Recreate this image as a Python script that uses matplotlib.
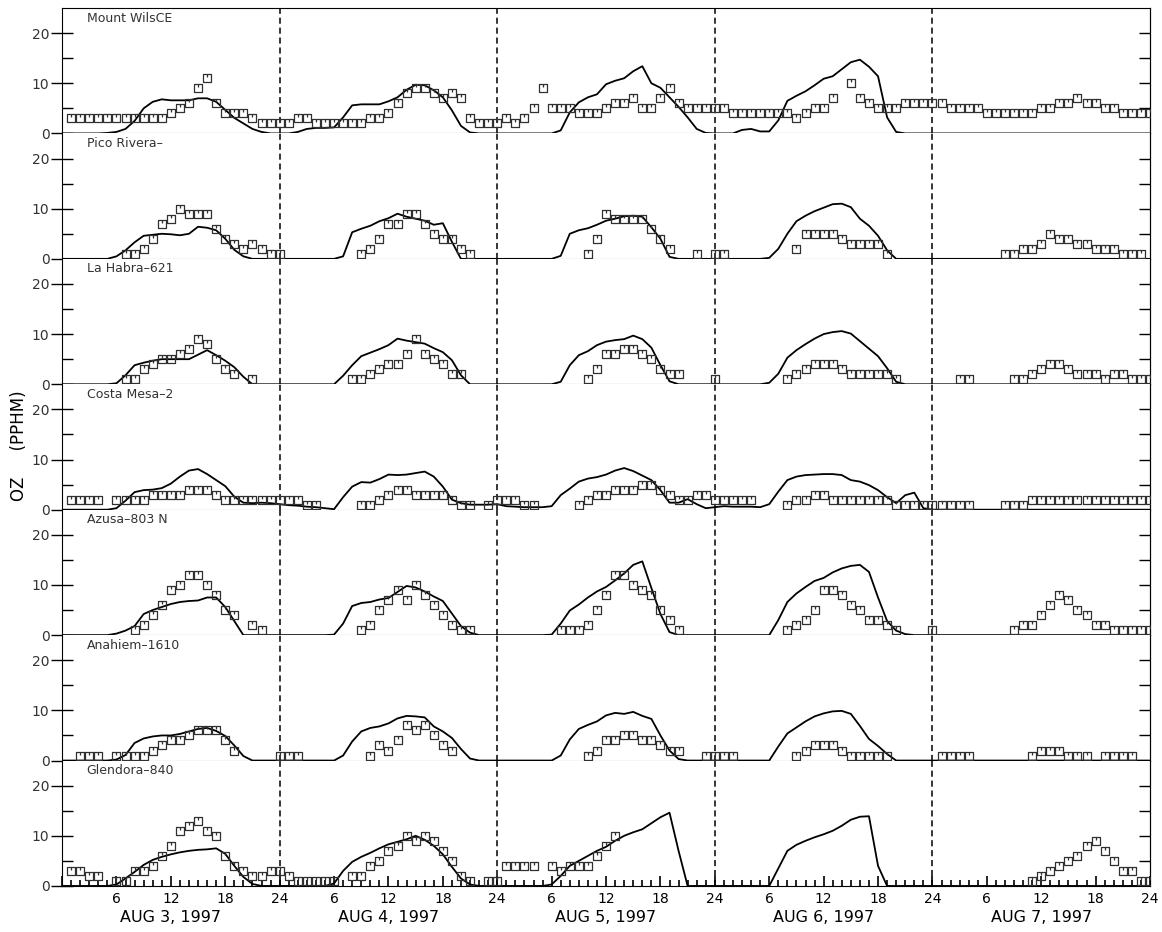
import numpy as np
import matplotlib

matplotlib.use("Agg")
import matplotlib.pyplot as plt
from matplotlib.path import Path
from matplotlib.ticker import FixedLocator, MultipleLocator, FuncFormatter

N = None

stations = ["Mount WilsCE", "Pico Rivera\u2013", "La Habra\u2013621", "Costa Mesa\u20132",
            "Azusa\u2013803 N", "Anahiem\u20131610", "Glendora\u2013840"]
day_labels = ["AUG 3, 1997", "AUG 4, 1997", "AUG 5, 1997", "AUG 6, 1997", "AUG 7, 1997"]

# observed hourly ozone, hours 1..120
mw_obs = [3, 3, 3, 3, 3, 3, 3, 3, 3, 3, 3, 4, 5, 6, 9, 11, 6, 4, 4, 4, 3, 2, 2, 2,
          2, 3, 3, 2, 2, 2, 2, 2, 2, 3, 3, 4, 6, 8, 9, 9, 8, 7, 8, 7, 3, 2, 2, 2,
          3, 2, 3, 5, 9, 5, 5, 5, 4, 4, 4, 5, 6, 6, 7, 5, 5, 7, 9, 6, 5, 5, 5, 5,
          5, 4, 4, 4, 4, 4, 4, 4, 3, 4, 5, 5, 7, N, 10, 7, 6, 5, 5, 5, 6, 6, 6, 6,
          6, 5, 5, 5, 5, 4, 4, 4, 4, 4, 4, 5, 5, 6, 6, 7, 6, 6, 5, 5, 4, 4, 4, 4]
pr_obs = [N, N, N, N, N, N, 1, 1, 2, 4, 7, 8, 10, 9, 9, 9, 6, 4, 3, 2, 3, 2, 1, 1,
          N, N, N, N, N, N, N, N, 1, 2, 4, 7, 7, 9, 9, 7, 5, 4, 4, 2, 1, N, N, N,
          N, N, N, N, N, N, N, N, N, 1, 4, 9, 8, 8, 8, 8, 6, 4, 2, N, N, 1, N, 1,
          1, N, N, N, N, N, N, N, 2, 5, 5, 5, 5, 4, 3, 3, 3, 3, 1, N, N, N, N, N,
          N, N, N, N, N, N, N, 1, 1, 2, 2, 3, 5, 4, 4, 3, 3, 2, 2, 2, 1, 1, 1, N]
lh_obs = [N, N, N, N, N, N, 1, 1, 3, 4, 5, 5, 6, 7, 9, 8, 5, 3, 2, N, 1, N, N, N,
          N, N, N, N, N, N, N, 1, 1, 2, 3, 4, 4, 6, 9, 6, 5, 4, 2, 2, N, N, N, N,
          N, N, N, N, N, N, N, N, N, 1, 3, 6, 6, 7, 7, 6, 5, 3, 2, 2, N, N, N, 1,
          N, N, N, N, N, N, N, 1, 2, 3, 4, 4, 4, 3, 2, 2, 2, 2, 2, 1, N, N, N, N,
          N, N, 1, 1, N, N, N, N, 1, 1, 2, 3, 4, 4, 3, 2, 2, 2, 1, 2, 2, 1, 1, 1]
cm_obs = [2, 2, 2, 2, N, 2, 2, 2, 2, 3, 3, 3, 3, 4, 4, 4, 3, 2, 2, 2, 2, 2, 2, 2,
          2, 2, 1, 1, N, N, N, N, 1, 1, 2, 3, 4, 4, 3, 3, 3, 3, 2, 1, 1, N, 1, 2,
          2, 2, 1, 1, N, N, N, N, 1, 2, 3, 3, 4, 4, 4, 5, 5, 4, 3, 2, 2, 3, 3, 2,
          2, 2, 2, 2, N, N, N, 1, 2, 2, 3, 3, 2, 2, 2, 2, 2, 2, 2, 1, 1, 1, 1, 1,
          1, 1, 1, 1, N, N, N, 1, 1, 1, 2, 2, 2, 2, 2, 2, 2, 2, 2, 2, 2, 2, 2, 2]
az_obs = [N, N, N, N, N, N, N, 1, 2, 4, 6, 9, 10, 12, 12, 10, 8, 5, 4, N, 2, 1, N, N,
          N, N, N, N, N, N, N, N, 1, 2, 5, 7, 9, 7, 10, 8, 6, 4, 2, 1, 1, N, N, N,
          N, N, N, N, N, N, 1, 1, 1, 2, 5, 8, 12, 12, 10, 9, 8, 5, 3, 1, N, N, N, N,
          N, N, N, N, N, N, N, 1, 2, 3, 5, 9, 9, 8, 6, 5, 3, 3, 2, 1, N, N, N, 1,
          N, N, N, N, N, N, N, N, 1, 2, 2, 4, 6, 8, 7, 5, 4, 2, 2, 1, 1, 1, 1, 1]
an_obs = [N, 1, 1, 1, N, 1, 1, 1, 1, 2, 3, 4, 4, 5, 6, 6, 6, 4, 2, N, N, N, N, 1,
          1, 1, N, N, N, N, N, N, N, 1, 3, 2, 4, 7, 6, 7, 5, 3, 2, N, N, N, N, N,
          N, N, N, N, N, N, N, N, N, 1, 2, 4, 4, 5, 5, 4, 4, 3, 2, 2, N, N, 1, 1,
          1, 1, N, N, N, N, N, N, 1, 2, 3, 3, 3, 2, 1, 1, 1, 1, 1, N, N, N, N, N,
          1, 1, 1, 1, N, N, N, N, N, N, 1, 2, 2, 2, 1, 1, 1, N, 1, 1, 1, 1, N, N]
gl_obs = [3, 3, 2, 2, N, 1, 1, 3, 3, 4, 6, 8, 11, 12, 13, 11, 10, 6, 4, 3, 2, 2, 3, 3,
          2, 1, 1, 1, 1, 1, N, 2, 2, 4, 5, 7, 8, 10, 9, 10, 9, 7, 5, 2, 1, N, 1, 1,
          4, 4, 4, 4, N, 4, 3, 4, 4, 4, 6, 8, 10, N, N, N, N, N, N, N, N, N, N, N,
          N, N, N, N, N, N, N, N, N, N, N, N, N, N, N, N, N, N, N, N, N, N, N, N,
          N, N, N, N, N, N, N, N, N, N, 1, 2, 3, 4, 5, 6, 8, 9, 7, 5, 3, 3, 1, 1]

# model hourly ozone, hours 0..120
mw_mod = [0,
          0, 0, 0, 0, 0.1, 0.3, 0.9, 2.5, 5.0, 6.3, 6.8, 6.6, 6.6, 6.6, 7.0, 7.0, 6.3, 4.7, 3.1, 2.0, 0.9, 0.3, 0, 0,
          0, 0.3, 0.9, 1.1, 1.1, 1.2, 3.2, 5.6, 5.8, 5.8, 5.8, 6.4, 7.2, 8.7, 9.7, 9.6, 8.6, 7.2, 4.6, 1.5, 0.2, 0, 0, 0,
          0, 0, 0, 0, 0, 0, 0.6, 4.2, 6.2, 7.2, 7.8, 9.8, 10.5, 11.0, 12.4, 13.4, 10.0, 9.1, 7.2, 5.3, 3.2, 0.9, 0.1, 0,
          0, 0, 0.7, 0.9, 0.4, 0.4, 2.6, 6.5, 7.5, 8.4, 9.6, 10.9, 11.4, 12.8, 14.2, 14.7, 13.3, 11.4, 3.2, 0.3, 0, 0, 0, 0,
          0, 0, 0, 0, 0, 0, 0, 0, 0, 0, 0, 0, 0, 0, 0, 0, 0, 0, 0, 0, 0, 0, 0, 0]
pr_mod = [0,
          0, 0, 0, 0, 0, 0.5, 1.7, 3.3, 4.6, 4.8, 5.0, 4.9, 4.7, 5.0, 6.4, 6.2, 5.7, 4.0, 1.8, 0.5, 0, 0, 0, 0,
          0, 0, 0, 0, 0, 0, 0.5, 5.3, 6.0, 6.6, 7.5, 8.1, 9.0, 8.4, 8.0, 7.6, 6.8, 7.1, 3.4, 0, 0, 0, 0, 0,
          0, 0, 0, 0, 0, 0, 0.6, 5.0, 5.7, 6.1, 6.8, 7.6, 8.0, 8.5, 8.6, 8.4, 6.3, 4.0, 0.4, 0, 0, 0, 0, 0,
          0, 0, 0, 0, 0, 0.2, 2.0, 5.0, 7.5, 8.6, 9.5, 10.2, 10.9, 11.0, 10.3, 8.0, 6.6, 4.6, 1.7, 0, 0, 0, 0, 0,
          0, 0, 0, 0, 0, 0, 0, 0, 0, 0, 0, 0, 0, 0, 0, 0, 0, 0, 0, 0, 0, 0, 0, 0]
lh_mod = [0,
          0, 0, 0, 0, 0, 0.2, 1.8, 3.8, 4.3, 4.7, 5.0, 5.0, 5.0, 5.0, 5.9, 6.8, 5.8, 4.7, 3.4, 1.5, 0, 0, 0, 0,
          0, 0, 0, 0, 0, 0, 1.7, 3.8, 5.6, 6.3, 7.0, 7.8, 9.1, 8.7, 8.4, 8.1, 7.2, 6.4, 4.8, 1.8, 0, 0, 0, 0,
          0, 0, 0, 0, 0, 0, 0.5, 3.8, 5.8, 6.6, 7.8, 8.5, 8.8, 9.0, 9.7, 9.0, 7.3, 3.8, 0.6, 0, 0, 0, 0, 0,
          0, 0, 0, 0, 0, 0.3, 2.1, 5.3, 6.8, 8.0, 9.1, 10.0, 10.4, 10.6, 10.1, 8.6, 7.1, 5.6, 3.2, 0.5, 0, 0, 0, 0,
          0, 0, 0, 0, 0, 0, 0, 0, 0, 0, 0, 0, 0, 0, 0, 0, 0, 0, 0, 0, 0, 0, 0, 0]
cm_mod = [0,
          0, 0, 0, 0, 0, 0.3, 1.8, 3.5, 3.9, 4.0, 4.3, 5.2, 6.6, 7.8, 8.1, 7.1, 5.9, 4.7, 2.6, 1.4, 1.3, 1.4, 1.3, 1.1,
          0.9, 0.8, 0.6, 0.5, 0.3, 0.1, 2.5, 4.6, 5.5, 5.4, 6.1, 7.0, 6.9, 7.0, 7.3, 7.6, 6.6, 4.6, 2.0, 1.3, 1.0, 1.0, 1.0, 1.1,
          0.7, 0.6, 0.5, 0.5, 0.5, 0.7, 2.9, 4.2, 5.6, 6.2, 6.5, 7.0, 7.8, 8.3, 7.7, 6.8, 5.9, 3.9, 1.4, 1.4, 2.1, 1.1, 0.3, 0.5,
          0.7, 0.6, 0.6, 0.6, 0.5, 1.1, 3.6, 5.9, 6.6, 6.9, 7.0, 7.1, 7.1, 6.9, 5.9, 5.6, 4.9, 3.9, 2.5, 1.3, 2.9, 3.4, 0.3, 0,
          0, 0, 0, 0, 0, 0, 0, 0, 0, 0, 0, 0, 0, 0, 0, 0, 0, 0, 0, 0, 0, 0, 0, 0]
az_mod = [0,
          0, 0, 0, 0, 0, 0.3, 0.9, 1.8, 4.2, 5.0, 5.6, 6.2, 6.6, 6.8, 6.9, 7.5, 7.5, 5.6, 2.8, 0, 0, 0, 0, 0,
          0, 0, 0, 0, 0, 0.1, 2.3, 5.8, 6.4, 6.6, 7.1, 7.4, 8.6, 9.8, 9.5, 8.7, 7.7, 6.8, 4.3, 1.8, 0.5, 0, 0, 0,
          0, 0, 0, 0, 0, 0.1, 2.3, 4.9, 6.1, 7.5, 8.7, 9.6, 10.9, 12.3, 14.0, 14.7, 9.4, 4.2, 0.6, 0, 0, 0, 0, 0,
          0, 0, 0, 0, 0, 0, 3.0, 6.6, 8.3, 9.6, 10.8, 11.4, 12.5, 13.3, 13.8, 14.0, 12.6, 7.5, 2.8, 0.9, 0.2, 0, 0, 0,
          0, 0, 0, 0, 0, 0, 0, 0, 0, 0, 0, 0, 0, 0, 0, 0, 0, 0, 0, 0, 0, 0, 0, 0]
an_mod = [0,
          0, 0, 0, 0, 0, 0.2, 1.1, 3.5, 4.4, 4.8, 5.0, 5.0, 5.3, 5.8, 6.3, 6.5, 5.9, 4.9, 3.0, 0.9, 0, 0, 0, 0,
          0, 0, 0, 0, 0, 0, 1.0, 3.8, 5.8, 6.5, 6.8, 7.4, 8.4, 8.9, 8.8, 8.6, 6.8, 5.8, 4.5, 2.3, 0.4, 0, 0, 0,
          0, 0, 0, 0, 0, 0, 1.0, 4.2, 6.3, 7.1, 7.8, 9.0, 9.5, 9.3, 9.7, 8.9, 8.3, 5.0, 2.0, 0.3, 0, 0, 0, 0,
          0, 0, 0, 0, 0, 0, 2.8, 5.4, 6.6, 7.8, 8.8, 9.4, 9.8, 9.9, 9.3, 6.9, 4.3, 2.9, 1.3, 0, 0, 0, 0, 0,
          0, 0, 0, 0, 0, 0, 0, 0, 0, 0, 0, 0, 0, 0, 0, 0, 0, 0, 0, 0, 0, 0, 0, 0]
gl_mod = [0,
          0, 0, 0, 0, 0, 0.3, 1.5, 2.8, 4.2, 5.2, 5.8, 6.3, 6.7, 7.0, 7.2, 7.3, 7.5, 6.4, 4.0, 1.8, 0.4, 0, 0, 0,
          0, 0, 0, 0, 0, 0.5, 3.0, 4.8, 5.8, 6.6, 7.5, 8.3, 8.8, 9.3, 10.0, 9.2, 8.0, 6.3, 3.8, 1.5, 0.3, 0, 0, 0,
          0, 0, 0, 0, 0, 0.3, 2.0, 4.0, 5.0, 6.0, 7.0, 7.8, 9.0, 10.0, 10.7, 11.3, 12.5, 13.7, 14.6, 7.0, 0, 0, 0, 0,
          0, 0, 0, 0, 0, 0, 3.5, 7.0, 8.2, 9.0, 9.7, 10.3, 11.0, 12.0, 13.2, 13.8, 13.9, 4.0, 0, 0, 0, 0, 0, 0,
          0, 0, 0, 0, 0, 0, 0, 0, 0, 0, 0, 0, 0, 0, 0, 0, 0, 0, 0, 0, 0, 0, 0, 0]

obs_all = [mw_obs, pr_obs, lh_obs, cm_obs, az_obs, an_obs, gl_obs]
mod_all = [mw_mod, pr_mod, lh_mod, cm_mod, az_mod, an_mod, gl_mod]
for o, m in zip(obs_all, mod_all):
    assert len(o) == 120 and len(m) == 121, (len(o), len(m))

obs_hours = np.arange(1, 121)
mod_hours = np.arange(0, 121)
day_breaks = [24, 48, 72, 96]

# square with a small notch, like the original plot symbol
box = Path([(-1, -1), (1, -1), (1, 1), (-1, 1), (-1, -1), (0, 1), (0, 0.3)],
           [Path.MOVETO, Path.LINETO, Path.LINETO, Path.LINETO, Path.CLOSEPOLY,
            Path.MOVETO, Path.LINETO])

plt.rcParams["font.family"] = ["DejaVu Sans"]
fig, axes = plt.subplots(7, 1, figsize=(11.62, 9.32), dpi=100, sharex=True,
                         gridspec_kw=dict(hspace=0))
fig.subplots_adjust(left=0.0534, right=0.9897, top=0.9914, bottom=0.0494)

for i, ax in enumerate(axes):
    obs = np.array([np.nan if v is None else v for v in obs_all[i]], dtype=float)
    mod = np.array(mod_all[i], dtype=float)
    ax.plot(mod_hours, mod, color="black", lw=1.3, zorder=3)
    ax.plot(obs_hours, obs, ls="none", marker=box, ms=6, mfc="none",
            mec="#303030", mew=0.9, zorder=4)
    for b in day_breaks:
        ax.axvline(b, color="black", lw=1.1, ls=(0, (4, 2.5)), zorder=2)
    ax.set_xlim(0, 120)
    ax.set_ylim(0, 25)
    ax.text(2.7, 23, stations[i], fontsize=9, color="#333", va="center", ha="left")

    ax.yaxis.set_major_locator(FixedLocator([0, 10, 20]))
    ax.yaxis.set_minor_locator(FixedLocator([5, 15]))
    ax.tick_params(axis="y", which="major", direction="inout", length=16, width=1,
                   labelsize=10, labelcolor="#333", pad=1, right=False)
    ax.tick_params(axis="y", which="minor", direction="in", length=8, width=1, right=False)

    sec = ax.secondary_yaxis("right")
    sec.set_yticks([5, 10, 15, 20])
    sec.tick_params(direction="in", length=8, width=1, labelright=False)

    if i > 0:
        ax.spines["top"].set_visible(False)
    if i < 6:
        ax.spines["bottom"].set_color("#666")
        ax.tick_params(axis="x", which="both", bottom=False, labelbottom=False)

bax = axes[-1]
bax.xaxis.set_major_locator(MultipleLocator(6))
bax.xaxis.set_minor_locator(MultipleLocator(1))
bax.xaxis.set_major_formatter(FuncFormatter(lambda v, p: "" if v <= 0 else str(int((v - 1) % 24 + 1))))
bax.tick_params(axis="x", which="major", direction="in", length=7, width=1.2,
                labelsize=10, pad=4, top=False)
bax.tick_params(axis="x", which="minor", direction="in", length=4.5, width=1.2, top=False)
for k, lab in enumerate(day_labels):
    bax.text(12 + 24 * k, -0.25, lab, transform=bax.get_xaxis_transform(),
             ha="center", va="center", fontsize=11.5)

fig.text(0.016, 0.522, "OZ     (PPHM)", rotation=90, ha="center", va="center", fontsize=12)

fig.savefig("out.png", dpi=100)
